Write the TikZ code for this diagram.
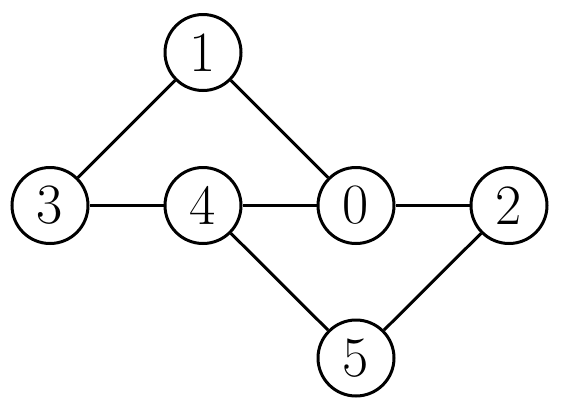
\documentclass[tikz,border=0pt]{standalone}
\begin{document}
\begin{tikzpicture}[x=1pt,y=-1pt,
  vertex/.style={circle,draw=black,line width=3pt,minimum size=76pt,inner sep=0pt,font=\fontsize{57}{60}\selectfont},
  edge/.style={draw=black,line width=3pt}]
\useasboundingbox (0,0) rectangle (562,410);
\node[vertex] (n1) at (203,52.5) {1};
\node[vertex] (n3) at (50,205.5) {3};
\node[vertex] (n4) at (203,205.5) {4};
\node[vertex] (n0) at (356,205.5) {0};
\node[vertex] (n2) at (509,205.5) {2};
\node[vertex] (n5) at (356,358) {5};
\path[edge] (n3) -- (n1);
\path[edge] (n1) -- (n0);
\path[edge] (n3) -- (n4);
\path[edge] (n4) -- (n0);
\path[edge] (n0) -- (n2);
\path[edge] (n4) -- (n5);
\path[edge] (n5) -- (n2);
\end{tikzpicture}
\end{document}
